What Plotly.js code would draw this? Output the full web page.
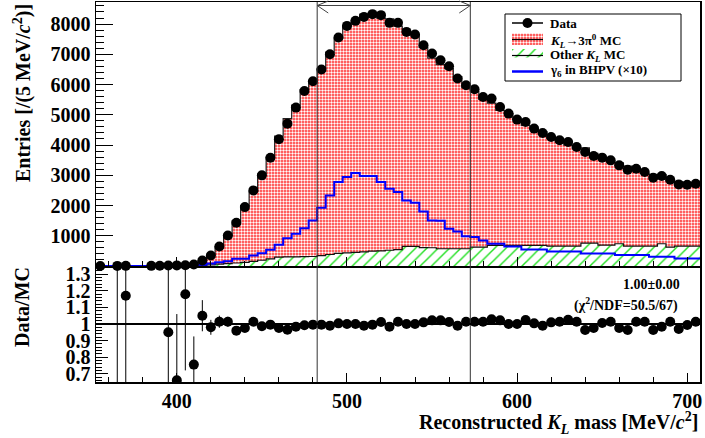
<!DOCTYPE html>
<html>
<head>
<meta charset="utf-8">
<script src="https://cdn.plot.ly/plotly-3.0.1.min.js"></script>
<style>
  html, body { margin: 0; padding: 0; background: #ffffff; }
  #chart { width: 705px; height: 438px; }
</style>
</head>
<body>
<div id="chart"></div>
<script>
// Reconstructed K_L mass, 5 MeV/c^2 bins (bin centres)
const massBins = [
  355, 360, 365, 370, 375, 380, 385, 390, 395, 400,
  405, 410, 415, 420, 425, 430, 435, 440, 445, 450,
  455, 460, 465, 470, 475, 480, 485, 490, 495, 500,
  505, 510, 515, 520, 525, 530, 535, 540, 545, 550,
  555, 560, 565, 570, 575, 580, 585, 590, 595, 600,
  605, 610, 615, 620, 625, 630, 635, 640, 645, 650,
  655, 660, 665, 670, 675, 680, 685, 690, 695, 700,
  705
];

// Data entries per bin (null = empty bin)
const dataEntries = [
  2, null, 3, 5, null, null, 5, 8, 15, 20,
  25, 50, 182, 348, 646, 1010, 1430, 1947, 2500, 2997,
  3582, 4189, 4708, 5238, 5788, 6109, 6497, 7003, 7556, 7940,
  8106, 8238, 8328, 8295, 8040, 8040, 7742, 7656, 7301, 7026,
  6805, 6606, 6199, 5977, 5844, 5590, 5536, 5258, 5040, 4841,
  4762, 4543, 4397, 4265, 4156, 4099, 3934, 3768, 3636, 3583,
  3493, 3328, 3185, 3218, 3106, 2920, 2974, 2854, 2699, 2689,
  2722
];

// K_L -> 3pi0 MC
const mcKL3pi0 = [
  0, 0, 1, 4, 0, 0, 0, 0, 16, 30,
  16, 56, 153, 315, 577, 916, 1390, 1875, 2315, 2850,
  3358, 4001, 4574, 5018, 5525, 5820, 6183, 6694, 7106, 7503,
  7656, 7851, 7871, 7697, 7651, 7389, 7096, 7010, 6619, 6272,
  6088, 5958, 5692, 5324, 5140, 4890, 4706, 4466, 4361, 4162,
  3971, 3846, 3762, 3563, 3439, 3335, 3220, 3154, 2970, 2872,
  2755, 2675, 2648, 2518, 2407, 2373, 2287, 2192, 2126, 2049,
  2028
];

// Other K_L decay MC
const mcOtherKL = [
  0, 0, 0, 0, 0, 0, 0, 0, 0, 0,
  5, 10, 20, 40, 60, 80, 100, 120, 150, 190,
  238, 291, 300, 305, 310, 314, 340, 380, 420, 437,
  450, 470, 490, 500, 520, 540, 646, 646, 610, 603,
  570, 570, 570, 570, 623, 623, 679, 679, 679, 679,
  679, 679, 679, 660, 660, 660, 660, 755, 755, 690,
  690, 735, 656, 656, 656, 656, 735, 623, 656, 656,
  656
];

// gamma_6 in BHPV, scaled by 10
const gammaBHPVx10 = [
  0, 0, 0, 0, 0, 0, 0, 0, 0, 0,
  5, 20, 40, 80, 120, 160, 238, 238, 348, 424,
  536, 702, 921, 1066, 1252, 1507, 1927, 2334, 2775, 2940,
  3073, 2974, 2974, 2775, 2556, 2444, 2169, 2093, 1805, 1507,
  1500, 1230, 1140, 987, 960, 844, 735, 735, 646, 646,
  546, 546, 546, 480, 480, 480, 480, 410, 410, 410,
  410, 360, 360, 360, 360, 310, 310, 310, 250, 250,
  250
];

// Data / MC ratio and its uncertainty
const ratioValues = [
  null, null, 3.0, 1.17, null, null, null, null, 0.95, 0.66,
  1.18, 0.755, 1.05, 0.98, 1.014, 1.014, 0.96, 0.976, 1.014, 0.986,
  0.996, 0.976, 0.966, 0.984, 0.992, 0.996, 0.996, 0.99, 1.004, 1.0,
  1.0, 0.99, 0.996, 1.012, 0.984, 1.014, 1.0, 1.0, 1.01, 1.022,
  1.022, 1.012, 0.99, 1.014, 1.014, 1.014, 1.028, 1.022, 1.0, 1.0,
  1.024, 1.004, 0.99, 1.01, 1.014, 1.026, 1.014, 0.964, 0.976, 1.006,
  1.014, 0.976, 0.964, 1.014, 1.014, 0.964, 0.984, 1.014, 0.97, 0.994,
  1.014
];
const ratioErrors = [
  0, 0, 3.0, 1.2, 0, 0, 0, 0, 0.5, 0.4,
  0.46, 0.17, 0.094, 0.045, 0.037, 0.03, 0.026, 0.022, 0.02, 0.018,
  0.017, 0.016, 0.015, 0.014, 0.014, 0.013, 0.013, 0.012, 0.012, 0.012,
  0.011, 0.011, 0.011, 0.011, 0.011, 0.011, 0.011, 0.011, 0.011, 0.011,
  0.012, 0.012, 0.013, 0.013, 0.013, 0.013, 0.014, 0.014, 0.014, 0.014,
  0.015, 0.015, 0.015, 0.015, 0.016, 0.016, 0.016, 0.016, 0.016, 0.017,
  0.017, 0.017, 0.017, 0.018, 0.018, 0.018, 0.018, 0.019, 0.019, 0.019,
  0.019
];

// Constant fit to the ratio
const fitValue = 1.00;
const fitError = 0.00;
const fitChi2 = 50.5;
const fitNDF = 67;

// Mass window
const massWindow = [482.5, 572.5];

// Legend labels
const legendLabels = [
  'Data',
  '<i>K</i><sub><i>L</i></sub>→3π<sup>0</sup> MC',
  'Other <i>K</i><sub><i>L</i></sub> MC',
  'γ<sub>6</sub> in BHPV (×10)'
];

const BIN_HALF = 2.5;
const X_RANGE = [352.5, 707.5];
const SERIF = 'Liberation Serif, Times New Roman, serif';

const RED_PATTERN = { shape: '.', bgcolor: '#ff2a2a', fgcolor: '#ffffff', size: 3, solidity: 0.5 };
const GREEN_PATTERN = { shape: '/', bgcolor: '#ffffff', fgcolor: '#22e022', size: 8, solidity: 0.18 };

// Step outline of a histogram over the bin edges
function histStep(values) {
  const xs = [], ys = [];
  massBins.forEach((c, i) => { xs.push(c - BIN_HALF); ys.push(values[i]); });
  xs.push(massBins[massBins.length - 1] + BIN_HALF);
  ys.push(values[values.length - 1]);
  return { x: xs, y: ys };
}

const mcStackTop = mcKL3pi0.map((v, i) => v + mcOtherKL[i]);
const stackStep = histStep(mcStackTop);
const otherStep = histStep(mcOtherKL);
const gammaStep = histStep(gammaBHPVx10);

const traces = [
  {
    name: legendLabels[1],
    x: stackStep.x, y: stackStep.y, xaxis: 'x2', yaxis: 'y2',
    mode: 'lines', line: { shape: 'hv', color: '#222222', width: 1.2 },
    fill: 'tozeroy', fillpattern: RED_PATTERN, hoverinfo: 'skip'
  },
  {
    name: legendLabels[2],
    x: otherStep.x, y: otherStep.y, xaxis: 'x2', yaxis: 'y2',
    mode: 'lines', line: { shape: 'hv', color: '#111111', width: 1.2 },
    fill: 'tozeroy', fillpattern: GREEN_PATTERN, hoverinfo: 'skip'
  },
  {
    name: legendLabels[3],
    x: gammaStep.x, y: gammaStep.y, xaxis: 'x2', yaxis: 'y2',
    mode: 'lines', line: { shape: 'hv', color: '#0000ff', width: 2 }, hoverinfo: 'skip'
  },
  {
    name: legendLabels[0],
    x: massBins, y: dataEntries, xaxis: 'x2', yaxis: 'y2',
    mode: 'markers', marker: { color: '#000000', size: 10 }, cliponaxis: false
  },
  {
    name: 'Data/MC',
    x: massBins, y: ratioValues, xaxis: 'x', yaxis: 'y',
    mode: 'markers', marker: { color: '#000000', size: 10 },
    error_y: { type: 'data', array: ratioErrors, visible: true, color: '#000000', thickness: 1, width: 0 }
  }
];

// Legend samples, drawn on a hidden overlay axis measured in figure pixels
const LX0 = 512, LX1 = 543, LXM = (LX0 + LX1) / 2;
const rowY = [23, 39.5, 53.5, 69];
traces.push(
  { x: [LX0, LX1], y: [rowY[0], rowY[0]], xaxis: 'x3', yaxis: 'y3', mode: 'lines',
    line: { color: '#000000', width: 1.5 } },
  { x: [LXM], y: [rowY[0]], xaxis: 'x3', yaxis: 'y3', mode: 'markers',
    marker: { color: '#000000', size: 10 } },
  { x: [LX0, LX1, LX1, LX0, LX0], y: [rowY[1] - 6, rowY[1] - 6, rowY[1] + 5.5, rowY[1] + 5.5, rowY[1] - 6],
    xaxis: 'x3', yaxis: 'y3', mode: 'lines', line: { width: 0 }, fill: 'toself', fillpattern: RED_PATTERN },
  { x: [LX0, LX1], y: [rowY[1], rowY[1]], xaxis: 'x3', yaxis: 'y3', mode: 'lines',
    line: { color: '#000000', width: 1.2 } },
  { x: [LX0, LX1, LX1, LX0, LX0], y: [rowY[2] - 4.5, rowY[2] - 4.5, rowY[2] + 4, rowY[2] + 4, rowY[2] - 4.5],
    xaxis: 'x3', yaxis: 'y3', mode: 'lines', line: { width: 0 }, fill: 'toself', fillpattern: GREEN_PATTERN },
  { x: [LX0, LX1], y: [rowY[2] + 2, rowY[2] + 2], xaxis: 'x3', yaxis: 'y3', mode: 'lines',
    line: { color: '#000000', width: 1.2 } },
  { x: [LX0, LX1], y: [rowY[3] + 2.5, rowY[3] + 2.5], xaxis: 'x3', yaxis: 'y3', mode: 'lines',
    line: { color: '#0000ff', width: 2.5 } }
);
traces.forEach(t => { t.showlegend = false; });

const PLOT_H = 380;      // px height of the plotting area
const LOWER_H = 116;     // px height of the ratio panel
const split = LOWER_H / PLOT_H;
const py = (Y) => 1 - (Y - 2) / PLOT_H;   // figure-pixel row -> paper y
const TOP_PANEL_BOTTOM = 2 + PLOT_H - LOWER_H;

const tickFont = { family: SERIF, size: 20, color: '#000000', weight: 'bold' };
const boldFont = (size) => ({ family: SERIF, size: size, color: '#000000', weight: 'bold' });

const legendAnnotations = legendLabels.map((label, i) => ({
  text: label, xref: 'x3', yref: 'y3', x: 548, y: rowY[i] + (i === 0 ? 0 : 1.5),
  xanchor: 'left', yanchor: 'middle', showarrow: false, font: boldFont(13)
}));

const layout = {
  width: 705, height: 438,
  margin: { l: 96, r: 5, t: 2, b: 56 },
  paper_bgcolor: '#ffffff', plot_bgcolor: '#ffffff',
  showlegend: false,
  xaxis: {
    domain: [0, 1], anchor: 'y', range: X_RANGE,
    showline: true, mirror: true, linecolor: '#000000', linewidth: 1.5,
    ticks: 'inside', ticklen: 9, tickcolor: '#000000', tick0: 0, dtick: 100,
    minor: { ticks: 'inside', ticklen: 5, tickcolor: '#000000', dtick: 20, tick0: 0 },
    showgrid: false, zeroline: false, tickfont: tickFont
  },
  yaxis: {
    domain: [0, split], anchor: 'x', range: [0.65, 1.35],
    showline: true, mirror: true, linecolor: '#000000', linewidth: 1.5,
    ticks: 'inside', ticklen: 12, tickcolor: '#000000',
    tickmode: 'array',
    tickvals: [0.7, 0.8, 0.9, 1.0, 1.1, 1.2, 1.3],
    ticktext: ['0.7', '0.8', '0.9', '1', '1.1', '1.2', '1.3'],
    minor: { ticks: 'inside', ticklen: 6, tickcolor: '#000000', dtick: 0.02, tick0: 0, tickmode: 'linear' },
    showgrid: false, zeroline: false, tickfont: tickFont
  },
  xaxis2: {
    domain: [0, 1], anchor: 'y2', matches: 'x', range: X_RANGE,
    showline: true, mirror: true, linecolor: '#000000', linewidth: 1.5,
    ticks: 'inside', ticklen: 9, tickcolor: '#000000', tick0: 0, dtick: 100,
    minor: { ticks: 'inside', ticklen: 5, tickcolor: '#000000', dtick: 20, tick0: 0 },
    showticklabels: false, showgrid: false, zeroline: false
  },
  yaxis2: {
    domain: [split, 1], anchor: 'x2', range: [0, 8730],
    showline: true, mirror: true, linecolor: '#000000', linewidth: 1.5,
    ticks: 'inside', ticklen: 17, tickcolor: '#000000',
    tickmode: 'array',
    tickvals: [1000, 2000, 3000, 4000, 5000, 6000, 7000, 8000],
    minor: { ticks: 'inside', ticklen: 8, tickcolor: '#000000', dtick: 200, tick0: 0, tickmode: 'linear' },
    showgrid: false, zeroline: false, tickfont: tickFont
  },
  // hidden pixel-scaled overlay for the legend
  xaxis3: { overlaying: 'x2', anchor: 'y3', range: [96, 700], visible: false, fixedrange: true },
  yaxis3: { overlaying: 'y2', anchor: 'x3', range: [TOP_PANEL_BOTTOM, 2], visible: false, fixedrange: true },
  shapes: [
    // legend frame
    { type: 'rect', xref: 'x3', yref: 'y3', x0: 505, x1: 681, y0: 14, y1: 81, layer: 'below',
      fillcolor: '#ffffff', line: { color: '#000000', width: 1 } },
    // mass window boundaries across both panels
    { type: 'line', xref: 'x', yref: 'paper', x0: massWindow[0], x1: massWindow[0], y0: 0, y1: 1,
      line: { color: '#333333', width: 1 } },
    { type: 'line', xref: 'x', yref: 'paper', x0: massWindow[1], x1: massWindow[1], y0: 0, y1: 1,
      line: { color: '#333333', width: 1 } },
    // double-headed arrow marking the window
    { type: 'path', xref: 'x', yref: 'paper',
      path: `M ${massWindow[0]},${py(5.5)} L ${massWindow[1]},${py(5.5)}`,
      line: { color: '#444444', width: 1 } },
    { type: 'path', xref: 'x', yref: 'paper',
      path: `M ${massWindow[0] + 6.5},${py(1)} L ${massWindow[0]},${py(5.5)} L ${massWindow[0] + 6.5},${py(13)}`,
      line: { color: '#444444', width: 1 } },
    { type: 'path', xref: 'x', yref: 'paper',
      path: `M ${massWindow[1] - 6.5},${py(1)} L ${massWindow[1]},${py(5.5)} L ${massWindow[1] - 6.5},${py(13)}`,
      line: { color: '#444444', width: 1 } },
    // constant fit to the ratio
    { type: 'line', xref: 'x', yref: 'y', x0: X_RANGE[0], x1: X_RANGE[1], y0: fitValue, y1: fitValue,
      line: { color: '#000000', width: 2.2 } }
  ],
  annotations: [
    { text: 'Entries [/(5 MeV/<i>c</i><sup>2</sup>)]', textangle: -90,
      xref: 'paper', yref: 'paper', x: (22 - 96) / 604, y: 1, xanchor: 'center', yanchor: 'top',
      showarrow: false, font: boldFont(20) },
    { text: 'Data/MC', textangle: -90,
      xref: 'paper', yref: 'paper', x: (22 - 96) / 604, y: py(265), xanchor: 'center', yanchor: 'top',
      showarrow: false, font: boldFont(20) },
    { text: 'Reconstructed <i>K</i><sub><i>L</i></sub> mass [MeV/<i>c</i><sup>2</sup>]',
      xref: 'paper', yref: 'paper', x: (700 - 96) / 604, y: py(423), xanchor: 'right', yanchor: 'middle',
      showarrow: false, font: boldFont(20) },
    { text: fitValue.toFixed(2) + '±' + fitError.toFixed(2),
      xref: 'paper', yref: 'paper', x: (682 - 96) / 604, y: py(284), xanchor: 'right', yanchor: 'middle',
      showarrow: false, font: boldFont(14) },
    { text: '(χ<sup>2</sup>/NDF=' + fitChi2.toFixed(1) + '/' + fitNDF + ')',
      xref: 'paper', yref: 'paper', x: (680 - 96) / 604, y: py(304), xanchor: 'right', yanchor: 'middle',
      showarrow: false, font: boldFont(14) }
  ].concat(legendAnnotations)
};

Plotly.newPlot('chart', traces, layout, { displayModeBar: false, staticPlot: true });
</script>
</body>
</html>
